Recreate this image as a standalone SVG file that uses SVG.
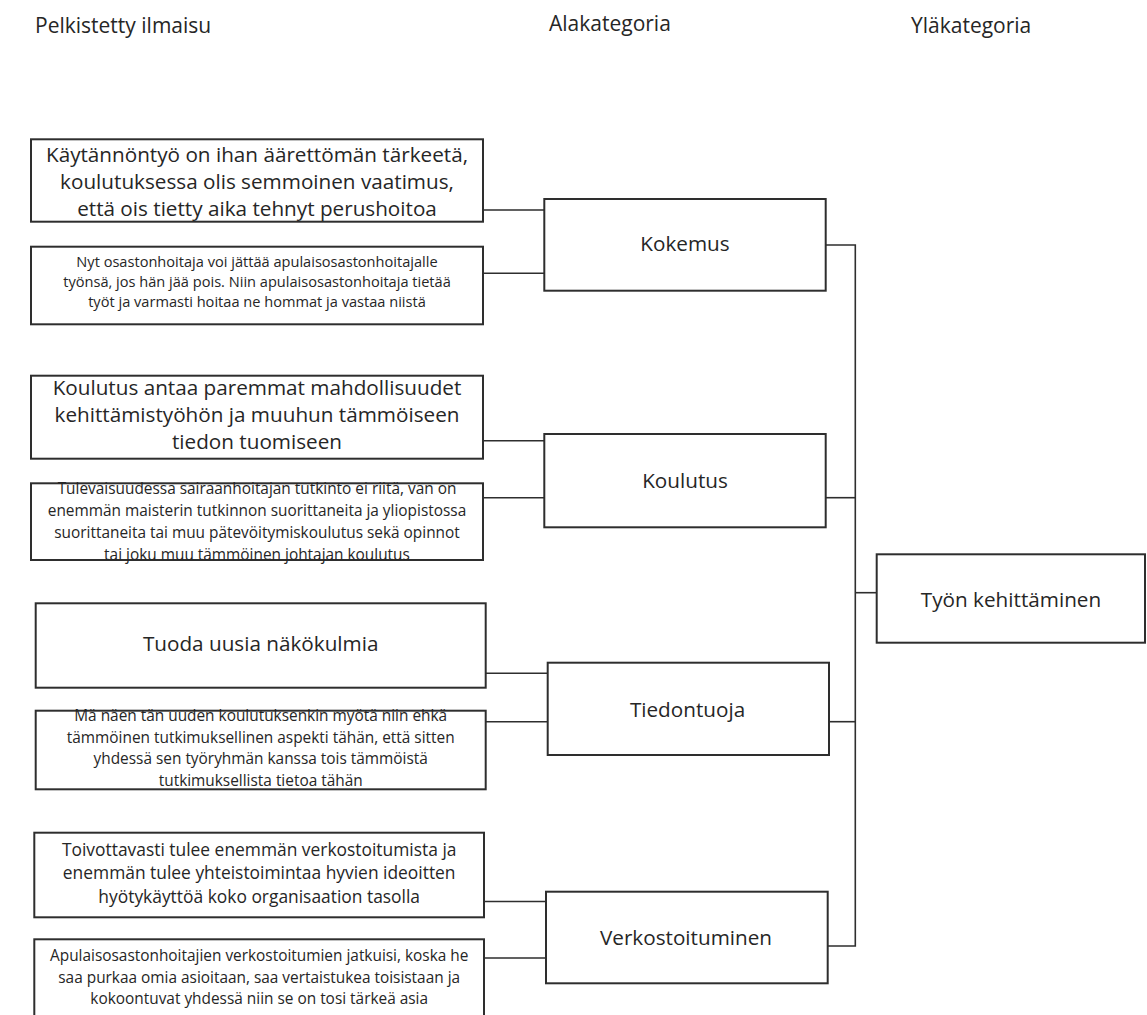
<svg xmlns="http://www.w3.org/2000/svg" width="1147" height="1015" viewBox="0 0 1147 1015">
<style>
  .bg { fill: #ffffff; }
  .box { fill: #ffffff; stroke: #2e2e2e; stroke-width: 2; }
  .conn { fill: none; stroke: #2e2e2e; stroke-width: 1.6; }
  text { font-family: "Open Sans", "Liberation Sans", sans-serif; fill: #262626; }
  .hdr { font-size: 21px; }
  .lg { font-size: 20.7px; text-anchor: middle; }
  .md { font-size: 17.4px; text-anchor: middle; }
  .sm { font-size: 15.4px; text-anchor: middle; }
  .xs { font-size: 14.6px; text-anchor: middle; }
</style>
<rect class="bg" x="0" y="0" width="1147" height="1015"/>

<g id="headers">
  <text class="hdr" x="35" y="33">Pelkistetty ilmaisu</text>
  <text class="hdr" x="549" y="31">Alakategoria</text>
  <text class="hdr" x="911" y="33">Yläkategoria</text>
</g>

<g id="connectors">
  <path class="conn" d="M483 210 H544.3 M483 273.3 H544.3"/>
  <path class="conn" d="M483 440.7 H544.3 M483 497.7 H544.3"/>
  <path class="conn" d="M485.7 673.3 H547.7 M485.7 721.7 H547.7"/>
  <path class="conn" d="M484 901.5 H546 M484 958 H546"/>
  <path class="conn" d="M825.7 245 H855.3 V946 H827.7"/>
  <path class="conn" d="M825.7 497.7 H855.3"/>
  <path class="conn" d="M829 721.7 H855.3"/>
  <path class="conn" d="M855.3 592.7 H876.7"/>
</g>

<g id="expr-kaytannontyo">
  <rect class="box" x="31" y="139.3" width="452" height="82.4"/>
  <text class="lg" x="257" y="161.5">Käytännöntyö on ihan äärettömän tärkeetä,</text>
  <text class="lg" x="257" y="188.5">koulutuksessa olis semmoinen vaatimus,</text>
  <text class="lg" x="257" y="215.5">että ois tietty aika tehnyt perushoitoa</text>
</g>

<g id="expr-osastonhoitaja">
  <rect class="box" x="31" y="246.7" width="452" height="77.6"/>
  <text class="xs" x="257" y="267">Nyt osastonhoitaja voi jättää apulaisosastonhoitajalle</text>
  <text class="xs" x="257" y="287">työnsä, jos hän jää pois. Niin apulaisosastonhoitaja tietää</text>
  <text class="xs" x="257" y="307">työt ja varmasti hoitaa ne hommat ja vastaa niistä</text>
</g>

<g id="expr-koulutus-antaa">
  <rect class="box" x="31" y="375.7" width="452" height="83"/>
  <text class="lg" x="257" y="394.5">Koulutus antaa paremmat mahdollisuudet</text>
  <text class="lg" x="257" y="421.5">kehittämistyöhön ja muuhun tämmöiseen</text>
  <text class="lg" x="257" y="448.5">tiedon tuomiseen</text>
</g>

<g id="expr-tulevaisuudessa">
  <rect class="box" x="31" y="483.3" width="452" height="76.7"/>
  <text class="sm" x="257" y="493.5">Tulevaisuudessa sairaanhoitajan tutkinto ei riitä, van on</text>
  <text class="sm" x="257" y="515.5">enemmän maisterin tutkinnon suorittaneita ja yliopistossa</text>
  <text class="sm" x="257" y="537.5">suorittaneita tai muu pätevöitymiskoulutus sekä opinnot</text>
  <text class="sm" x="257" y="559.5">tai joku muu tämmöinen johtajan koulutus</text>
</g>

<g id="expr-tuoda">
  <rect class="box" x="35.7" y="603.3" width="450" height="84.4"/>
  <text class="lg" x="260.7" y="650.5">Tuoda uusia näkökulmia</text>
</g>

<g id="expr-ma-naen">
  <rect class="box" x="35.7" y="710.7" width="450" height="78.6"/>
  <text class="sm" x="260.7" y="721">Mä näen tän uuden koulutuksenkin myötä niin ehkä</text>
  <text class="sm" x="260.7" y="742.5">tämmöinen tutkimuksellinen aspekti tähän, että sitten</text>
  <text class="sm" x="260.7" y="764">yhdessä sen työryhmän kanssa tois tämmöistä</text>
  <text class="sm" x="260.7" y="785.5">tutkimuksellista tietoa tähän</text>
</g>

<g id="expr-toivottavasti">
  <rect class="box" x="34.3" y="832.7" width="449.7" height="84.6"/>
  <text class="md" x="259.2" y="855.7">Toivottavasti tulee enemmän verkostoitumista ja</text>
  <text class="md" x="259.2" y="879">enemmän tulee yhteistoimintaa hyvien ideoitten</text>
  <text class="md" x="259.2" y="903">hyötykäyttöä koko organisaation tasolla</text>
</g>

<g id="expr-apulaisosastonhoitajien">
  <rect class="box" x="34.3" y="939.3" width="449.7" height="90"/>
  <text class="sm" x="259.2" y="961">Apulaisosastonhoitajien verkostoitumien jatkuisi, koska he</text>
  <text class="sm" x="259.2" y="982.7">saa purkaa omia asioitaan, saa vertaistukea toisistaan ja</text>
  <text class="sm" x="259.2" y="1004.3">kokoontuvat yhdessä niin se on tosi tärkeä asia</text>
</g>

<g id="sub-kokemus">
  <rect class="box" x="544.3" y="199" width="281.4" height="91.7"/>
  <text class="lg" x="685" y="251">Kokemus</text>
</g>

<g id="sub-koulutus">
  <rect class="box" x="544.3" y="434" width="281.4" height="93.3"/>
  <text class="lg" x="685" y="488">Koulutus</text>
</g>

<g id="sub-tiedontuoja">
  <rect class="box" x="547.7" y="662.7" width="281.3" height="92.3"/>
  <text class="lg" x="687.5" y="716.5">Tiedontuoja</text>
</g>

<g id="sub-verkostoituminen">
  <rect class="box" x="546" y="891.7" width="281.7" height="91.6"/>
  <text class="lg" x="686" y="945">Verkostoituminen</text>
</g>

<g id="main-tyon-kehittaminen">
  <rect class="box" x="876.7" y="554.3" width="268.3" height="88.4"/>
  <text class="lg" x="1011" y="606.7">Työn kehittäminen</text>
</g>
</svg>
